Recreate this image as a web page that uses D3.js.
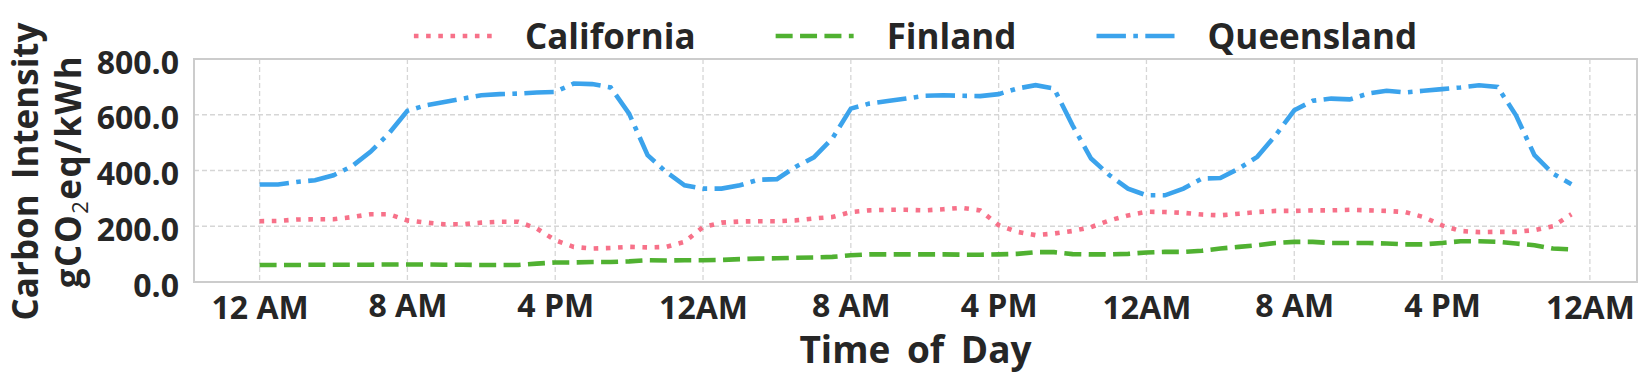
<!DOCTYPE html>
<html>
<head>
<meta charset="utf-8">
<script src="https://cdn.jsdelivr.net/npm/d3@7"></script>
<style>
  body { margin: 0; background: #fff; }
  text { font-family: "Open Sans", sans-serif; font-weight: bold; fill: #262626; }
</style>
</head>
<body>
<div id="chart"></div>
<script>
// hour index of each sample (3 days, hourly)
var hours = d3.range(72);

var california = [218,219,224,225,225,233,243,243,221,213,207,207,213,216,216,192,150,126,120,122,126,124,126,
  144,197,213,217,218,218,221,228,233,251,257,259,259,257,261,266,257,204,180,168,174,183,197,221,239,252,
  251,248,242,239,245,251,255,255,257,257,259,257,255,251,233,203,183,179,180,180,186,200,243];
var finland = [61,61,61,62,62,62,62,63,63,63,62,62,61,61,61,66,70,70,72,72,74,78,77,
  78,78,79,82,84,85,87,88,90,96,99,99,99,99,99,98,98,99,101,107,107,100,99,99,101,106,
  108,108,112,120,126,132,140,144,144,140,140,140,138,135,135,140,146,146,144,138,132,120,117];
var queensland = [350,350,359,365,383,415,467,533,614,634,646,658,670,674,676,680,682,712,710,698,604,455,395,
  347,335,335,347,367,369,413,447,515,622,640,649,658,668,670,668,667,674,694,706,694,562,443,383,335,311,
  311,335,371,373,407,449,527,616,650,658,655,676,686,680,686,692,698,706,700,598,455,389,351];

var seriesNames = ["California", "Finland", "Queensland"];
var seriesColors = ["#f77189", "#50b131", "#3ba3ec"];
var seriesDash = ["4.6,7.6", "17,7.4", "29.4,7.4,4.6,7.4"];

var xTicks = [0, 8, 16, 24, 32, 40, 48, 56, 64, 72];
var xTickLabels = ["12 AM", "8 AM", "4 PM", "12AM", "8 AM", "4 PM", "12AM", "8 AM", "4 PM", "12AM"];
var yTicks = [0, 200, 400, 600, 800];

var width = 1644, height = 376;
var margin = {t: 59, r: 7, b: 94, l: 194};

var svg = d3.select("#chart").append("svg")
    .attr("width", width)
    .attr("height", height);

var x = d3.scaleLinear().domain([-3.55, 74.55]).range([margin.l, width - margin.r]);
var y = d3.scaleLinear().domain([0, 800]).range([height - margin.b, margin.t]);

// grid
svg.append("g").selectAll("line.vgrid")
    .data(xTicks).enter().append("line")
    .attr("x1", function(d) { return x(d); }).attr("x2", function(d) { return x(d); })
    .attr("y1", y(800)).attr("y2", y(0))
    .attr("stroke", "#d6d6d6").attr("stroke-width", 1.3).attr("stroke-dasharray", "5,3");
svg.append("g").selectAll("line.hgrid")
    .data(yTicks.slice(1, -1)).enter().append("line")
    .attr("x1", x.range()[0]).attr("x2", x.range()[1])
    .attr("y1", function(d) { return y(d); }).attr("y2", function(d) { return y(d); })
    .attr("stroke", "#d6d6d6").attr("stroke-width", 1.3).attr("stroke-dasharray", "5,3");

// axes (labels only, no tick marks)
var xAxis = svg.append("g")
    .attr("transform", "translate(0," + y(0) + ")")
    .call(d3.axisBottom(x).tickValues(xTicks).tickSize(0).tickPadding(0)
        .tickFormat(function(d, i) { return xTickLabels[i]; }));
xAxis.select(".domain").remove();
xAxis.selectAll("text")
    .attr("y", function(d, i) { return xTickLabels[i].indexOf("12") === 0 ? 36.5 : 34.5; })
    .attr("dy", 0)
    .style("font-size", "32px");

var yAxis = svg.append("g")
    .attr("transform", "translate(" + x.range()[0] + ",0)")
    .call(d3.axisLeft(y).tickValues(yTicks).tickSize(0).tickPadding(15)
        .tickFormat(d3.format(".1f")));
yAxis.select(".domain").remove();
yAxis.selectAll("text")
    .attr("dy", "0.38em")
    .attr("y", 2)
    .style("font-size", "32px");

// series
var line = d3.line()
    .x(function(d, i) { return x(hours[i]); })
    .y(function(d) { return y(d); });

[california, finland, queensland].forEach(function(vals, k) {
  svg.append("path")
      .datum(vals)
      .attr("d", line)
      .attr("fill", "none")
      .attr("stroke", seriesColors[k])
      .attr("stroke-width", 4.6)
      .attr("stroke-dasharray", seriesDash[k]);
});

// frame
svg.append("rect")
    .attr("x", x.range()[0]).attr("y", y(800))
    .attr("width", x.range()[1] - x.range()[0])
    .attr("height", y(0) - y(800))
    .attr("fill", "none").attr("stroke", "#cccccc").attr("stroke-width", 2);

// legend, centred over the plot
var legend = svg.append("g");
var lx = 0;
seriesNames.forEach(function(name, k) {
  var item = legend.append("g").attr("transform", "translate(" + lx + ",0)");
  item.append("line")
      .attr("x1", 0).attr("x2", 78).attr("y1", 36).attr("y2", 36)
      .attr("stroke", seriesColors[k]).attr("stroke-width", 4.6)
      .attr("stroke-dasharray", seriesDash[k]);
  var t = item.append("text")
      .attr("x", 111).attr("y", 49)
      .style("font-size", "35px")
      .text(name);
  lx += 111 + t.node().getComputedTextLength() + 80;
});
var lw = lx - 80;
legend.attr("transform", "translate(" + ((x.range()[0] + x.range()[1]) / 2 - lw / 2) + ",0)");

// axis titles
svg.append("text")
    .attr("x", (x.range()[0] + x.range()[1]) / 2)
    .attr("y", 363)
    .attr("text-anchor", "middle")
    .style("font-size", "37px")
    .style("word-spacing", "7px")
    .text("Time of Day");

var ylab = svg.append("text")
    .attr("transform", "translate(0," + ((y(0) + y(800)) / 2 + 1) + ") rotate(-90)")
    .attr("text-anchor", "middle")
    .style("font-size", "35px");
ylab.append("tspan").attr("x", 0).attr("y", 38).style("word-spacing", "6px").text("Carbon Intensity");
var l2 = ylab.append("tspan").attr("x", 0).attr("y", 81).style("letter-spacing", "1.5px");
l2.append("tspan").text("gCO");
l2.append("tspan").attr("dy", 7).style("font-size", "22px").style("font-weight", "normal").text("2");
l2.append("tspan").attr("dy", -7).text("eq/kWh");
</script>
</body>
</html>
